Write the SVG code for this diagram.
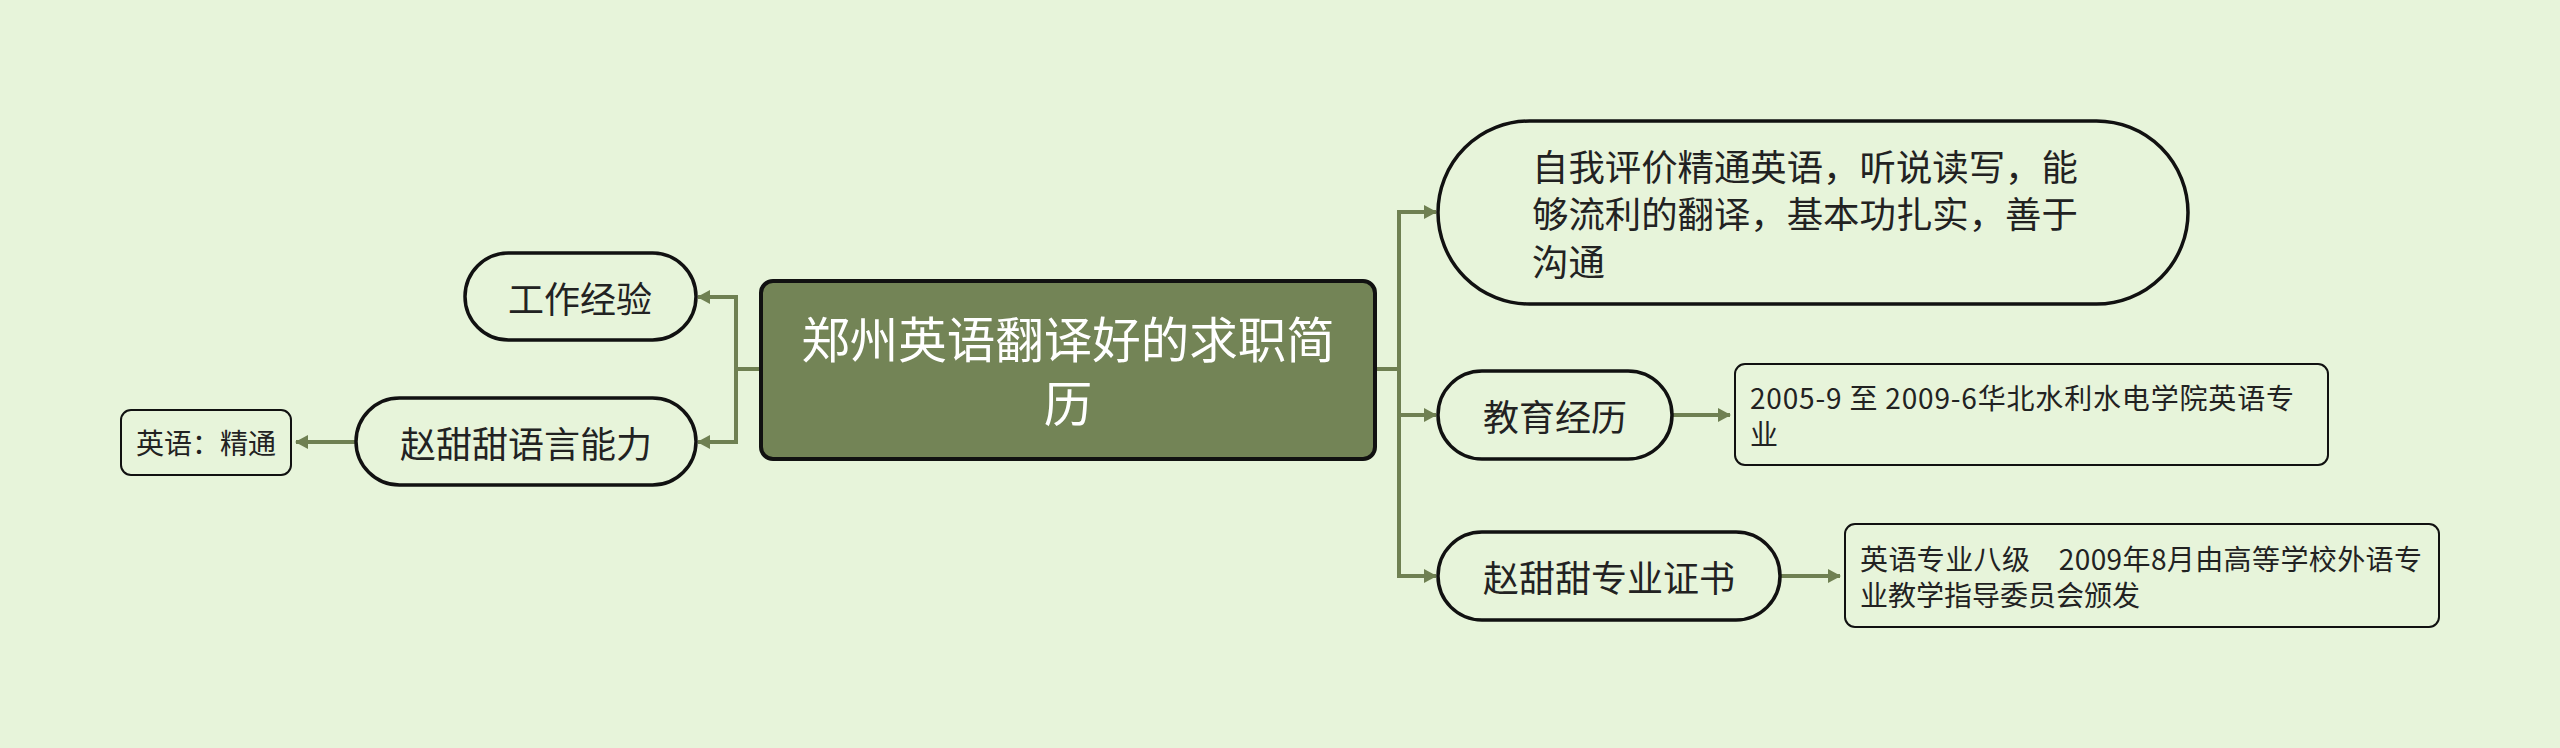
<svg xmlns="http://www.w3.org/2000/svg" width="2560" height="748" viewBox="0 0 2560 748">
<defs>
<marker id="arr" markerUnits="userSpaceOnUse" markerWidth="14" markerHeight="16" refX="12" refY="8" orient="auto"><path d="M0 1 L13 8 L0 15 Z" fill="#6f8052"/></marker>
<style>
.t{font-family:"Noto Sans CJK SC","Noto Sans",sans-serif;fill:#222;}
.c{fill:none;stroke:#6f8052;stroke-width:4;marker-end:url(#arr);}
.pill{fill:#e7f4da;stroke:#111;stroke-width:3.5;}
.leaf{fill:#e7f4da;stroke:#111;stroke-width:2;}
</style>
</defs>
<rect width="2560" height="748" fill="#e7f4da"/>
<g id="connectors">
<path class="c" d="M1375 369 H1399 V212 H1436"/>
<path class="c" d="M1375 369 H1399 V415 H1436"/>
<path class="c" d="M1375 369 H1399 V576 H1436"/>
<path class="c" d="M761 369 H736 V297 H698"/>
<path class="c" d="M761 369 H736 V442 H698"/>
<path class="c" d="M356 442 H296"/>
<path class="c" d="M1672 415 H1730"/>
<path class="c" d="M1780 576 H1840"/>
</g>
<g id="root">
<rect x="761" y="281" width="614" height="178" rx="12" fill="#738456" stroke="#111" stroke-width="4"/>
<text class="t" x="1068" y="337" font-size="48.5" text-anchor="middle" dominant-baseline="central" style="fill:#fff">郑州英语翻译好的求职简</text>
<text class="t" x="1068" y="401" font-size="48.5" text-anchor="middle" dominant-baseline="central" style="fill:#fff">历</text>
</g>
<g id="n-self">
<rect class="pill" x="1438" y="121" width="750" height="183" rx="91.5"/>
<text class="t" x="1532" y="165" font-size="36.4" dominant-baseline="central">自我评价精通英语，听说读写，能</text>
<text class="t" x="1532" y="212" font-size="36.4" dominant-baseline="central">够流利的翻译，基本功扎实，善于</text>
<text class="t" x="1532" y="260" font-size="36.4" dominant-baseline="central">沟通</text>
</g>
<g id="n-edu">
<rect class="pill" x="1438" y="371" width="234" height="88" rx="44"/>
<text class="t" x="1555" y="415" font-size="36" text-anchor="middle" dominant-baseline="central">教育经历</text>
</g>
<g id="n-edu-leaf">
<rect class="leaf" x="1735" y="364" width="593" height="101" rx="10"/>
<text class="t" x="1750" y="397" font-size="28" dominant-baseline="central" textLength="544" lengthAdjust="spacing">2005-9 至 2009-6华北水利水电学院英语专</text>
<text class="t" x="1750" y="433" font-size="28" dominant-baseline="central">业</text>
</g>
<g id="n-cert">
<rect class="pill" x="1438" y="532" width="342" height="88" rx="44"/>
<text class="t" x="1609" y="576" font-size="36" text-anchor="middle" dominant-baseline="central">赵甜甜专业证书</text>
</g>
<g id="n-cert-leaf">
<rect class="leaf" x="1845" y="524" width="594" height="103" rx="10"/>
<text class="t" x="1860" y="558" font-size="28" dominant-baseline="central" textLength="562" lengthAdjust="spacing">英语专业八级　2009年8月由高等学校外语专</text>
<text class="t" x="1860" y="594" font-size="28" dominant-baseline="central">业教学指导委员会颁发</text>
</g>
<g id="n-work">
<rect class="pill" x="465" y="253" width="231" height="87" rx="43.5"/>
<text class="t" x="580" y="297" font-size="36" text-anchor="middle" dominant-baseline="central">工作经验</text>
</g>
<g id="n-lang">
<rect class="pill" x="356" y="398" width="340" height="87" rx="43.5"/>
<text class="t" x="526" y="442" font-size="36" text-anchor="middle" dominant-baseline="central">赵甜甜语言能力</text>
</g>
<g id="n-lang-leaf">
<rect class="leaf" x="121" y="410" width="170" height="65" rx="10"/>
<text class="t" x="206" y="442" font-size="28" text-anchor="middle" dominant-baseline="central">英语：精通</text>
</g>
</svg>
